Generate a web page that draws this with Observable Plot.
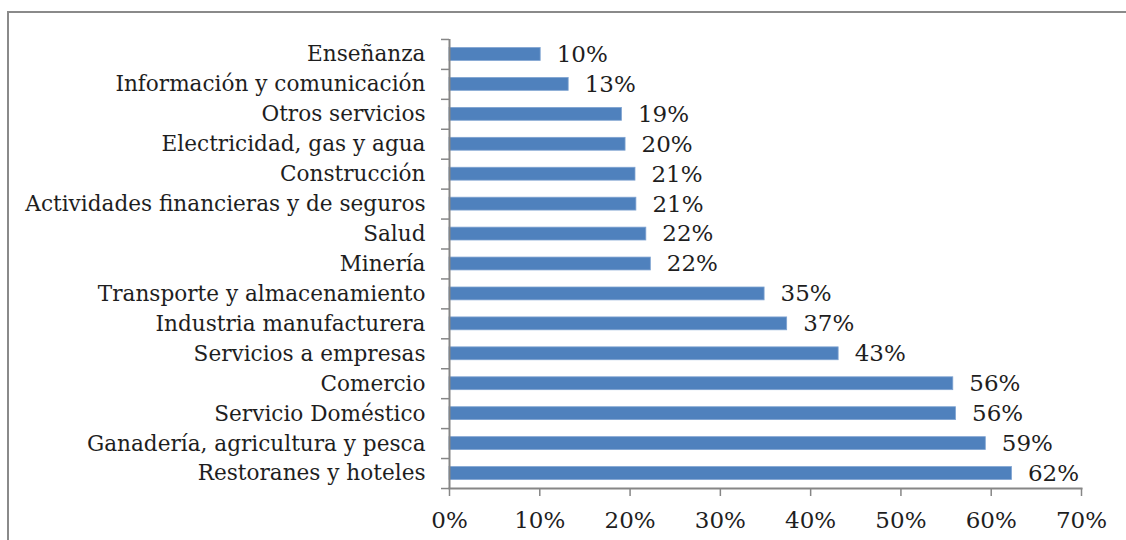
<!DOCTYPE html>
<html>
<head>
<meta charset="utf-8">
<script src="https://cdn.jsdelivr.net/npm/d3@7"></script>
<script src="https://cdn.jsdelivr.net/npm/@observablehq/plot@0.6"></script>
<style>
  html, body { margin: 0; padding: 0; background: #fff; overflow: hidden; }
  #wrap { position: relative; width: 1126px; height: 540px; }
  #border { position: absolute; left: 7px; top: 11px; width: 1200px; height: 600px;
            border-left: 2px solid #8a8a8a; border-top: 2px solid #8a8a8a; }
  #chart { position: absolute; left: 0; top: 0; }
</style>
</head>
<body>
<div id="wrap"><div id="border"></div><div id="chart"></div></div>
<script>
const categories = [
  "Enseñanza",
  "Información y comunicación",
  "Otros servicios",
  "Electricidad, gas y agua",
  "Construcción",
  "Actividades financieras y de seguros",
  "Salud",
  "Minería",
  "Transporte y almacenamiento",
  "Industria manufacturera",
  "Servicios a empresas",
  "Comercio",
  "Servicio Doméstico",
  "Ganadería, agricultura y pesca",
  "Restoranes y hoteles"
];
const values = [10.1, 13.2, 19.1, 19.5, 20.6, 20.7, 21.8, 22.3, 34.9, 37.4, 43.1, 55.8, 56.1, 59.4, 62.3];
const labels = ["10%", "13%", "19%", "20%", "21%", "21%", "22%", "22%", "35%", "37%", "43%", "56%", "56%", "59%", "62%"];
const xTicks = [0, 10, 20, 30, 40, 50, 60, 70];

const data = categories.map((c, i) => ({cat: c, v: values[i], label: labels[i]}));
const font = "'DejaVu Serif', serif";
const grey = "#868686";
const ink = "#1e1e1e";

const chart = Plot.plot({
  width: 1126,
  height: 540,
  marginLeft: 449,
  marginRight: 45,
  marginTop: 39,
  marginBottom: 52,
  style: {fontFamily: font, fontSize: "21.6px", color: ink, background: "transparent"},
  x: {domain: [0, 70]},
  y: {domain: categories, paddingInner: 0.57, paddingOuter: 0.285, round: false},
  marks: [
    Plot.barX(data, {x: "v", y: "cat", fill: "#4F81BD", stroke: "#7fa3d1", strokeWidth: 0.8}),
    Plot.text(data, {x: "v", y: "cat", text: "label", dx: 16, textAnchor: "start", fontSize: 23, fill: ink}),
    Plot.axisY({tickSize: 0, tickPadding: 24, fontSize: 21.6, fill: ink, label: null}),
    Plot.axisY({tickSize: 8, dy: -15, text: null, stroke: grey, strokeWidth: 1.5, label: null}),
    Plot.axisY({ticks: [categories[categories.length - 1]], tickSize: 8, dy: 15, text: null, stroke: grey, strokeWidth: 1.5, label: null}),
    Plot.axisX({ticks: xTicks, tickSize: 8, tickPadding: 15, tickFormat: d => d + "%", fontSize: 23, fill: ink, stroke: grey, strokeWidth: 1.5, label: null}),
    Plot.ruleX([0], {stroke: grey, strokeWidth: 2}),
    Plot.frame({anchor: "bottom", stroke: grey, strokeWidth: 2})
  ]
});
document.getElementById("chart").appendChild(chart);
</script>
</body>
</html>
